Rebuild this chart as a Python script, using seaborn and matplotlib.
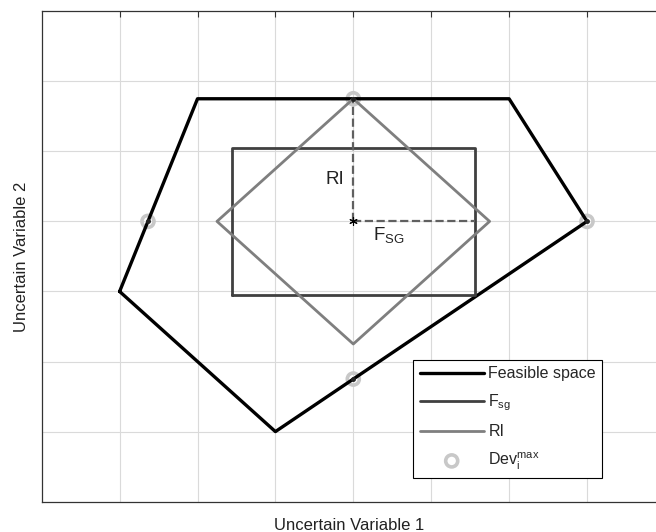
import numpy as np
import pandas as pd
import matplotlib
matplotlib.use('Agg')
import matplotlib.pyplot as plt
import seaborn as sns

# polygon / shape vertices
feas_x = [1, 2, 6, 7, 3, 1]
feas_y = [3, 5.75, 5.75, 4, 1, 3]

fsg_x = [2.44, 5.56, 5.56, 2.44, 2.44]
fsg_y = [2.95, 2.95, 5.05, 5.05, 2.95]

ri_x = [4, 5.75, 4, 2.25, 4]
ri_y = [5.75, 4, 2.25, 4, 5.75]

center = (4, 4)
dev_x = [4, 1.364, 7, 4]
dev_y = [5.75, 4, 4, 1.75]

sns.set_style('whitegrid')
plt.rcParams['font.family'] = ['Liberation Sans', 'DejaVu Sans']
plt.rcParams['mathtext.fontset'] = 'custom'
plt.rcParams['mathtext.rm'] = 'Liberation Sans'
plt.rcParams['mathtext.it'] = 'Liberation Sans:italic'

fig = plt.figure(figsize=(6.56, 5.32), dpi=100)
ax = fig.add_axes([0.0636, 0.057, 1 - 0.0636, 0.922])

sns.lineplot(x=feas_x, y=feas_y, sort=False, estimator=None, color='black',
             lw=2.4, ax=ax, label='Feasible space', zorder=3)
sns.lineplot(x=fsg_x, y=fsg_y, sort=False, estimator=None, color='#404040',
             lw=2.0, ax=ax, label=r'F$_{\mathrm{sg}}$', zorder=3)
sns.lineplot(x=ri_x, y=ri_y, sort=False, estimator=None, color='#7f7f7f',
             lw=2.0, ax=ax, label='RI', zorder=3)

# dashed radii
ax.plot([center[0], center[0]], [center[1], 5.75], ls='--', color='#606060', lw=1.6, zorder=4)
ax.plot([center[0], 5.56], [center[1], center[1]], ls='--', color='#606060', lw=1.6, zorder=4)
ax.plot(*center, marker=(6, 2, 0), color='black', ms=6, mew=0.8, zorder=5)

sns.scatterplot(x=dev_x, y=dev_y, ax=ax, marker='o', s=75, facecolor='none',
                edgecolor='#c8c8c8', linewidth=2.6, label=r'Dev$_{\mathrm{i}}^{\mathrm{max}}$', zorder=2)
ax.plot(dev_x, dev_y, ls='none', marker='o', ms=2.5, color='#222222', zorder=4)

ax.text(3.88, 4.6, 'RI', fontsize=13.5, ha='right', va='center', color='#222222')
ax.text(4.25, 3.8, r'F$_{\mathrm{SG}}$', fontsize=13.5, ha='left', va='center', color='#222222')

ax.set_xlim(0, 7.886)
ax.set_ylim(0, 7)
ax.set_xticks(range(1, 8))
ax.set_yticks(range(1, 7))
ax.set_xticklabels([])
ax.set_yticklabels([])
ax.grid(True, color='#dadada', lw=0.8)
ax.tick_params(direction='in', top=True, right=False, length=4, width=0.8, color='#333333')
ax.spines['right'].set_visible(False)
for s in ax.spines.values():
    s.set_color('#333333')
    s.set_linewidth(0.9)

ax.set_xlabel('Uncertain Variable 1', fontsize=12, color='#222222', labelpad=8)
ax.set_ylabel('Uncertain Variable 2', fontsize=12, color='#222222', labelpad=6)

leg = ax.legend(loc='lower left', bbox_to_anchor=(0.592, 0.032), fontsize=11.5,
                frameon=True, fancybox=False, edgecolor='black', framealpha=1,
                handlelength=4.0, labelspacing=0.7, handletextpad=0.3, borderpad=0.4)
leg.get_frame().set_linewidth(0.8)

fig.savefig('out.png', dpi=100)
